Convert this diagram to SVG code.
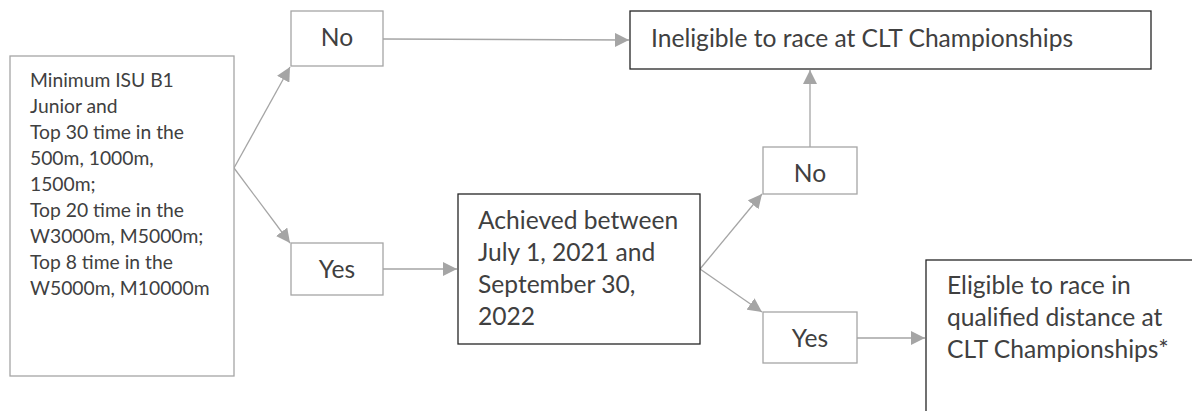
<svg xmlns="http://www.w3.org/2000/svg" width="1192" height="411" viewBox="0 0 1192 411">
<defs>
<marker id="ah" viewBox="0 0 10 10" refX="10" refY="5" markerWidth="14" markerHeight="14" markerUnits="userSpaceOnUse" orient="auto">
<path d="M0,0 L10,5 L0,10 z" fill="#A5A5A5"/>
</marker>
<style>
.g{fill:#fff;stroke:#A5A5A5;stroke-width:1.3}
.d{fill:#fff;stroke:#262626;stroke-width:1.3}
.t{font-family:Lato,"Open Sans",sans-serif;fill:#404040}
.s{font-size:19.3px}
.m{font-size:24.6px}
.c{stroke:#A5A5A5;stroke-width:1.3;fill:none;marker-end:url(#ah)}
</style>
</defs>
<rect width="1192" height="411" fill="#fff"/>
<g id="connectors">
<line class="c" x1="234" y1="168" x2="290" y2="67"/>
<line class="c" x1="234" y1="168" x2="290" y2="243"/>
<line class="c" x1="383" y1="39" x2="629" y2="40"/>
<line class="c" x1="383" y1="269" x2="457" y2="269"/>
<line class="c" x1="700" y1="269" x2="762" y2="194"/>
<line class="c" x1="700" y1="269" x2="762" y2="312"/>
<line class="c" x1="810" y1="147" x2="810" y2="70"/>
<line class="c" x1="857" y1="338" x2="925" y2="338"/>
</g>
<g id="criteria">
<rect class="g" x="10" y="56" width="224" height="320"/>
<text class="t s" x="30"><tspan x="30" y="87">Minimum ISU B1</tspan><tspan x="30" y="113">Junior and</tspan><tspan x="30" y="139">Top 30 time in the</tspan><tspan x="30" y="165">500m, 1000m,</tspan><tspan x="30" y="191">1500m;</tspan><tspan x="30" y="217">Top 20 time in the</tspan><tspan x="30" y="243">W3000m, M5000m;</tspan><tspan x="30" y="269">Top 8 time in the</tspan><tspan x="30" y="295">W5000m, M10000m</tspan></text>
</g>
<g id="no1">
<rect class="g" x="291" y="11" width="92" height="55"/>
<text class="t m" x="337" y="46" text-anchor="middle">No</text>
</g>
<g id="yes1">
<rect class="g" x="291" y="243" width="92" height="52"/>
<text class="t m" x="337" y="278" text-anchor="middle">Yes</text>
</g>
<g id="ineligible">
<rect class="d" x="630" y="11" width="521" height="58"/>
<text class="t m" x="651" y="47">Ineligible to race at CLT Championships</text>
</g>
<g id="achieved">
<rect class="d" x="458" y="194" width="242" height="150"/>
<text class="t m"><tspan x="478" y="229">Achieved between</tspan><tspan x="478" y="261">July 1, 2021 and</tspan><tspan x="478" y="293">September 30,</tspan><tspan x="478" y="325">2022</tspan></text>
</g>
<g id="no2">
<rect class="g" x="763" y="147" width="94" height="47"/>
<text class="t m" x="810" y="182" text-anchor="middle">No</text>
</g>
<g id="yes2">
<rect class="g" x="763" y="312" width="94" height="51"/>
<text class="t m" x="810" y="347" text-anchor="middle">Yes</text>
</g>
<g id="eligible">
<rect class="d" x="926" y="260" width="280" height="170"/>
<text class="t m"><tspan x="947" y="294">Eligible to race in</tspan><tspan x="947" y="326">qualified distance at</tspan><tspan x="947" y="358">CLT Championships*</tspan></text>
</g>
</svg>
